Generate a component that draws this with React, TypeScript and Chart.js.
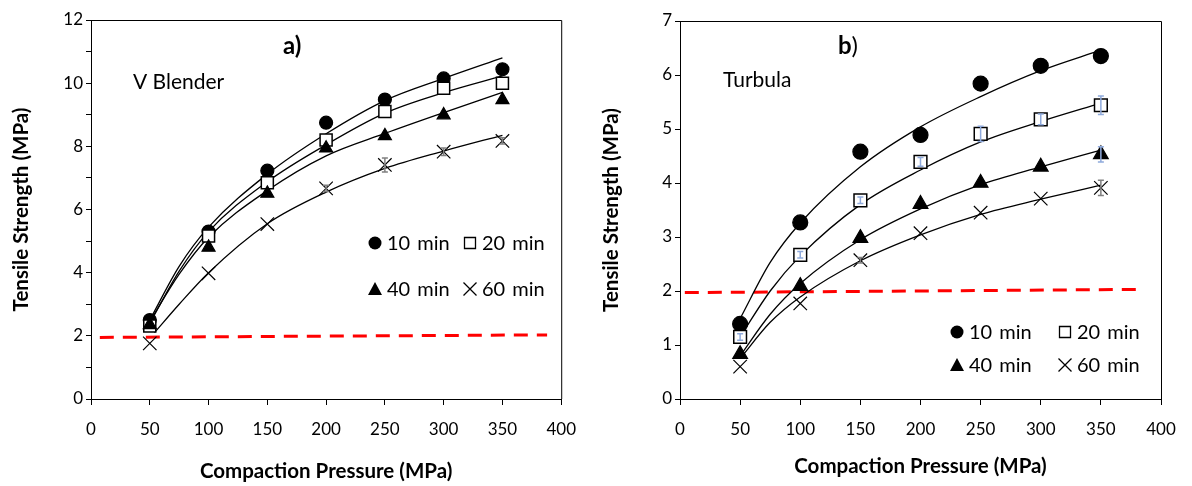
import React, { useEffect, useRef } from 'react';
import { Chart, registerables } from 'chart.js';

Chart.register(...registerables);

// ---------- data ----------
const pressures = [50, 100, 150, 200, 250, 300, 350];

// V Blender (panel a)
const vb10 = [2.5, 5.3, 7.23, 8.75, 9.48, 10.15, 10.44];
const vb20 = [2.31, 5.16, 6.85, 8.2, 9.1, 9.84, 10.0];
const vb40 = [2.35, 4.8, 6.51, 7.94, 8.33, 8.99, 9.47];
const vb60 = [1.76, 3.98, 5.54, 6.67, 7.41, 7.83, 8.17];
const vb60Err = [0, 0, 0, 0.1, 0.22, 0.12, 0.1];

// Turbula (panel b)
const tb10 = [1.39, 3.27, 4.58, 4.89, 5.84, 6.17, 6.35];
const tb20 = [1.15, 2.67, 3.68, 4.39, 4.91, 5.18, 5.44];
const tb40 = [0.83, 2.09, 2.98, 3.61, 4.0, 4.3, 4.53];
const tb60 = [0.6, 1.77, 2.57, 3.07, 3.45, 3.71, 3.91];
const tb20Err = [0.06, 0.06, 0.06, 0.08, 0.14, 0.1, 0.17];
const tb40Err = [0, 0, 0, 0, 0, 0, 0.14];
const tb60Err = [0, 0, 0.05, 0, 0, 0, 0.14];

// trend lines
const fitX = [50, 75, 100, 150, 200, 250, 300, 350];
const vbFit10 = [2.5, 4.2, 5.44, 7.12, 8.4, 9.45, 10.15, 10.8];
const vbFit20 = [2.4, 4.05, 5.3, 6.88, 8.05, 9.05, 9.7, 10.23];
const vbFit40 = [2.45, 3.95, 5.12, 6.6, 7.7, 8.41, 9.07, 9.71];
const vbFit60X = [54, 75, 100, 150, 200, 250, 300, 350];
const vbFit60 = [2.1, 3.0, 4.0, 5.55, 6.55, 7.3, 7.85, 8.35];

const tbFit10 = [1.49, 2.53, 3.26, 4.3, 5.04, 5.6, 6.08, 6.46];
const tbFit20 = [1.15, 2.0, 2.65, 3.6, 4.24, 4.76, 5.14, 5.48];
const tbFit40 = [0.8, 1.57, 2.14, 2.95, 3.52, 3.97, 4.3, 4.61];
const tbFit60 = [0.75, 1.42, 1.89, 2.56, 3.04, 3.42, 3.7, 3.96];

// 2 MPa threshold line
const vbLimitX = [7.5, 388];
const vbLimitY = [1.95, 2.03];
const tbLimitX = [4, 383];
const tbLimitY = [1.97, 2.03];

const seriesLabels = ['10 min', '20 min', '40 min', '60 min'];

const FONT = 'Lato, "Open Sans", sans-serif';

const pts = (xs: number[], ys: number[]) => xs.map((x, i) => ({ x, y: ys[i] }));

function drawMarker(ctx: CanvasRenderingContext2D, kind: string, x: number, y: number, s: number) {
  ctx.save();
  ctx.strokeStyle = '#000';
  ctx.fillStyle = '#000';
  ctx.lineWidth = 1.3;
  ctx.beginPath();
  if (kind === 'circle') {
    ctx.arc(x, y, s, 0, Math.PI * 2);
    ctx.fill();
  } else if (kind === 'rect') {
    ctx.fillStyle = '#fff';
    ctx.rect(x - s, y - s, 2 * s, 2 * s);
    ctx.fill();
    ctx.stroke();
  } else if (kind === 'triangle') {
    ctx.moveTo(x, y - s);
    ctx.lineTo(x + s, y + s * 0.85);
    ctx.lineTo(x - s, y + s * 0.85);
    ctx.closePath();
    ctx.fill();
  } else {
    ctx.moveTo(x - s, y - s);
    ctx.lineTo(x + s, y + s);
    ctx.moveTo(x + s, y - s);
    ctx.lineTo(x - s, y + s);
    ctx.stroke();
  }
  ctx.restore();
}

type PanelCfg = {
  width: number;
  yMax: number;
  yStep: number;
  yLabelEvery: number;
  padRight: number;
  padTop: number;
  yAxisWidth: number;
  xTitlePad: number;
  series: number[][];
  fits: { x: number[]; y: number[] }[];
  errs: { idx: number; err: number[]; color: string }[];
  limitX: number[];
  limitY: number[];
  sizes: number[];
  title: { bold: string; normal: string; x: number; y: number };
  subtitle: { text: string; x: number; y: number };
  legend: { col1: number; col2: number; row1: number; row2: number };
};

function buildChart(canvas: HTMLCanvasElement, cfg: PanelCfg) {
  const styles = ['circle', 'rect', 'triangle', 'crossRot'];
  const datasets: any[] = [];
  // threshold line
  datasets.push({
    label: 'limit',
    data: pts(cfg.limitX, cfg.limitY),
    showLine: true,
    borderColor: '#FF0000',
    borderWidth: 3,
    borderDash: [14, 9],
    pointRadius: 0,
    order: 3,
  });
  cfg.fits.forEach((f, i) => {
    datasets.push({
      label: 'fit ' + seriesLabels[i],
      data: pts(f.x, f.y),
      showLine: true,
      borderColor: '#000',
      borderWidth: 1.3,
      pointRadius: 0,
      cubicInterpolationMode: 'monotone',
      order: 2,
    });
  });
  cfg.series.forEach((s, i) => {
    datasets.push({
      label: seriesLabels[i],
      data: pts(pressures, s),
      showLine: false,
      pointStyle: styles[i],
      pointRadius: cfg.sizes[i],
      backgroundColor: i === 1 ? '#fff' : '#000',
      borderColor: '#000',
      borderWidth: i === 1 ? 1.5 : 1.2,
      order: 1 - i * 0.1,
    });
  });

  const overlay = {
    id: 'overlay',
    afterDatasetsDraw(chart: any) {
      const ctx = chart.ctx as CanvasRenderingContext2D;
      const xs = chart.scales.x;
      const ys = chart.scales.y;
      // error bars
      cfg.errs.forEach((e) => {
        ctx.save();
        ctx.strokeStyle = e.color;
        ctx.lineWidth = 1.5;
        e.err.forEach((v, k) => {
          if (!v) return;
          const px = xs.getPixelForValue(pressures[k]);
          const yv = cfg.series[e.idx][k];
          const y1 = ys.getPixelForValue(yv - v);
          const y2 = ys.getPixelForValue(yv + v);
          ctx.beginPath();
          ctx.moveTo(px, y1);
          ctx.lineTo(px, y2);
          ctx.moveTo(px - 3, y1);
          ctx.lineTo(px + 3, y1);
          ctx.moveTo(px - 3, y2);
          ctx.lineTo(px + 3, y2);
          ctx.stroke();
        });
        ctx.restore();
      });
    },
    afterDraw(chart: any) {
      const ctx = chart.ctx as CanvasRenderingContext2D;
      const { left, right, top, bottom } = chart.chartArea;
      ctx.save();
      ctx.strokeStyle = '#000';
      ctx.lineWidth = 1;
      ctx.beginPath();
      ctx.moveTo(left, top + 0.5);
      ctx.lineTo(right + 0.5, top + 0.5);
      ctx.lineTo(right + 0.5, bottom);
      ctx.stroke();

      // panel title
      ctx.fillStyle = '#000';
      ctx.textBaseline = 'alphabetic';
      ctx.textAlign = 'left';
      ctx.font = `bold 24px ${FONT}`;
      ctx.fillText(cfg.title.bold, cfg.title.x, cfg.title.y);
      const w = ctx.measureText(cfg.title.bold).width;
      if (cfg.title.normal) {
        ctx.font = `24px ${FONT}`;
        ctx.fillText(cfg.title.normal, cfg.title.x + w, cfg.title.y);
      }
      ctx.font = `21px ${FONT}`;
      ctx.fillText(cfg.subtitle.text, cfg.subtitle.x, cfg.subtitle.y);

      // legend
      const L = cfg.legend;
      const cells = [
        [L.col1, L.row1],
        [L.col2, L.row1],
        [L.col1, L.row2],
        [L.col2, L.row2],
      ];
      const msize = [6.5, 5.5, 7, 6.5];
      ctx.font = `20px ${FONT}`;
      ctx.textBaseline = 'middle';
      cells.forEach(([cx, cy], i) => {
        drawMarker(ctx, styles[i], cx, cy, msize[i]);
        ctx.fillStyle = '#000';
        const [num, unit] = seriesLabels[i].split(' ');
        ctx.fillText(num, cx + 12, cy + 1);
        const nw = ctx.measureText(num).width;
        ctx.fillText(unit, cx + 12 + nw + 7, cy + 1);
      });
      ctx.restore();
    },
  };

  return new Chart(canvas, {
    type: 'scatter',
    data: { datasets },
    plugins: [overlay],
    options: {
      animation: false,
      responsive: false,
      events: [],
      layout: { padding: { left: 0, right: cfg.padRight, top: cfg.padTop, bottom: 0 } },
      plugins: { legend: { display: false }, tooltip: { enabled: false } },
      scales: {
        x: {
          type: 'linear',
          min: 0,
          max: 400,
          afterFit: (s: any) => {
            s.height = 87;
          },
          ticks: {
            stepSize: 50,
            color: '#000',
            padding: 14,
            font: { family: FONT, size: 17 },
            maxRotation: 0,
          },
          grid: { drawOnChartArea: false, drawTicks: true, tickLength: 6, color: '#000' },
          border: { display: true, color: '#000', width: 1 },
          title: {
            display: true,
            text: 'Compaction Pressure (MPa)',
            color: '#000',
            font: { family: FONT, size: 20.5, weight: 'bold' },
            padding: { top: 0, bottom: cfg.xTitlePad },
          },
        },
        y: {
          type: 'linear',
          min: 0,
          max: cfg.yMax,
          afterFit: (s: any) => {
            s.width = cfg.yAxisWidth;
          },
          ticks: {
            stepSize: cfg.yStep,
            color: '#000',
            padding: 3,
            font: { family: FONT, size: 17 },
            callback: (v: any) => (Math.round(v) % cfg.yLabelEvery === 0 ? String(v) : ''),
          },
          grid: { drawOnChartArea: false, drawTicks: true, tickLength: 5, color: '#000' },
          border: { display: true, color: '#000', width: 1 },
          title: {
            display: true,
            text: 'Tensile Strength (MPa)',
            color: '#000',
            font: { family: FONT, size: 20.5, weight: 'bold' },
            padding: { top: 9, bottom: 0 },
          },
        },
      },
    } as any,
  });
}

const panelA: PanelCfg = {
  width: 590,
  yMax: 12,
  yStep: 1,
  yLabelEvery: 2,
  padRight: 18,
  padTop: 20,
  yAxisWidth: 91,
  xTitlePad: 2,
  series: [vb10, vb20, vb40, vb60],
  fits: [
    { x: fitX, y: vbFit10 },
    { x: fitX, y: vbFit20 },
    { x: fitX, y: vbFit40 },
    { x: vbFit60X, y: vbFit60 },
  ],
  errs: [{ idx: 3, err: vb60Err, color: '#808080' }],
  limitX: vbLimitX,
  limitY: vbLimitY,
  sizes: [6.5, 8.5, 7.5, 9.5],
  title: { bold: 'a)', normal: '', x: 283, y: 54 },
  subtitle: { text: 'V Blender', x: 133, y: 89 },
  legend: { col1: 375, col2: 470, row1: 243, row2: 289 },
};

const panelB: PanelCfg = {
  width: 602,
  yMax: 7,
  yStep: 1,
  yLabelEvery: 1,
  padRight: 31,
  padTop: 21,
  yAxisWidth: 90,
  xTitlePad: 7,
  series: [tb10, tb20, tb40, tb60],
  fits: [
    { x: fitX, y: tbFit10 },
    { x: fitX, y: tbFit20 },
    { x: fitX, y: tbFit40 },
    { x: fitX, y: tbFit60 },
  ],
  errs: [
    { idx: 1, err: tb20Err, color: '#8FAADC' },
    { idx: 2, err: tb40Err, color: '#8FAADC' },
    { idx: 3, err: tb60Err, color: '#808080' },
  ],
  limitX: tbLimitX,
  limitY: tbLimitY,
  sizes: [7.5, 9, 8.5, 9.5],
  title: { bold: 'b', normal: ')', x: 248, y: 54 },
  subtitle: { text: 'Turbula', x: 133, y: 87 },
  legend: { col1: 367, col2: 475, row1: 332, row2: 365 },
};

function Panel({ cfg, left }: { cfg: PanelCfg; left: number }) {
  const ref = useRef<HTMLCanvasElement | null>(null);
  useEffect(() => {
    if (!ref.current) return;
    const chart = buildChart(ref.current, cfg);
    return () => chart.destroy();
  }, [cfg]);
  return (
    <canvas
      ref={ref}
      width={cfg.width}
      height={486}
      style={{ position: 'absolute', left, top: 0, width: cfg.width, height: 486 }}
    />
  );
}

export default function App() {
  return (
    <div
      style={{
        position: 'absolute',
        left: 0,
        top: 0,
        width: 1192,
        height: 486,
        background: '#fff',
        overflow: 'hidden',
      }}
    >
      <Panel cfg={panelA} left={0} />
      <Panel cfg={panelB} left={590} />
    </div>
  );
}
